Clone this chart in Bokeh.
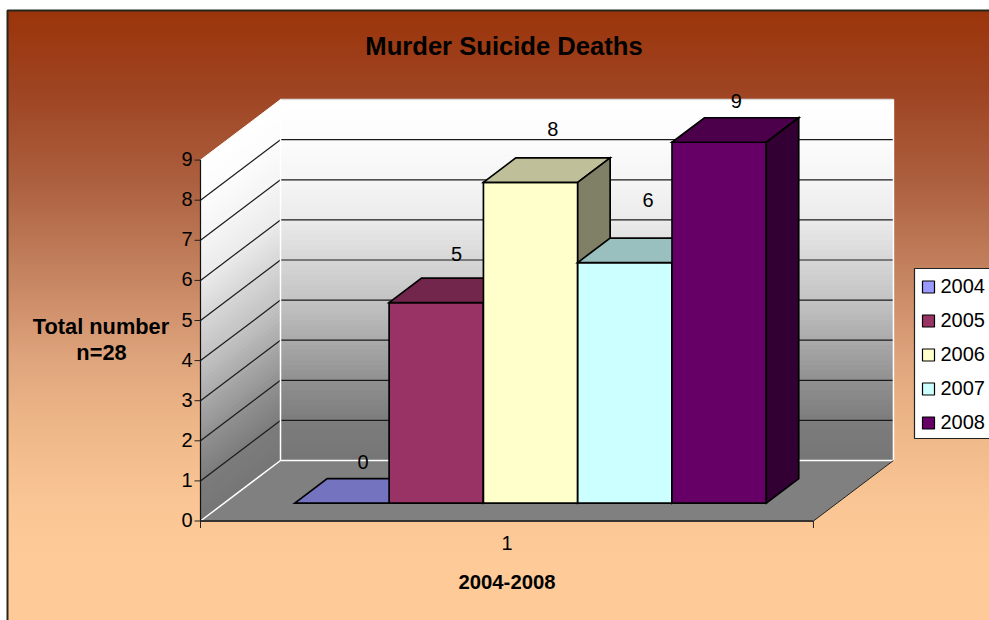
from bokeh.plotting import figure
from bokeh.models import Range1d
from bokeh.core.properties import value
from bokeh.embed import file_html
from bokeh.resources import INLINE
import numpy as np

# ---- data
title_text = "Murder Suicide Deaths"
y_title = ["Total number", "n=28"]
x_title = "2004-2008"
category = ["1"]
series = ["2004", "2005", "2006", "2007", "2008"]
deaths = [0, 5, 8, 6, 9]
y_ticks = [0, 1, 2, 3, 4, 5, 6, 7, 8, 9]
colors = ["#9999FF", "#993366", "#FFFFCC", "#CCFFFF", "#660066"]

# ---- projection / layout
FONT = value("Liberation Sans")
W, H = 989, 620
X_PX, Y_PX = 94.3, 40.1          # px per bar width, px per death
AX_X, AX_Y = 200, 520.5          # page position of the front-left-bottom corner
GAP = 0.75                       # gap on both sides of the bar group
DX, DY = 80 / X_PX, 60.5 / Y_PX  # full depth of the chart box, in data units
D0, D1 = 0.295, 0.70             # depth span of the bars
VMAX = y_ticks[-1]
UL, UR = -GAP, len(series) + GAP

# wall shading: grey level along the height of the wall (top to bottom)
SHADE_T = [0, 0.11, 0.22, 0.33, 0.44, 0.56, 0.67, 0.78, 0.89, 1]
SHADE_G = [255, 252, 245, 235, 215, 195, 170, 145, 125, 118]


def ux(page_x):
    return (page_x - AX_X) / X_PX - GAP


def vy(page_y):
    return (AX_Y - page_y) / Y_PX


def shade(hex_color, k):
    r, g, b = (int(hex_color[i:i + 2], 16) for i in (1, 3, 5))
    return "#%02x%02x%02x" % (round(r * k), round(g * k), round(b * k))


def mix(t):
    c = round(float(np.interp(t, SHADE_T, SHADE_G)))
    return "#%02x%02x%02x" % (c, c, c)


p = figure(width=W, height=H, output_backend="svg", toolbar_location=None,
           x_range=Range1d(ux(0), ux(W)),
           y_range=Range1d(vy(H), vy(0)),
           min_border=0, outline_line_color=None, x_axis_type=None, y_axis_type=None,
           background_fill_alpha=0, border_fill_alpha=0)
p.grid.visible = False
p.styles = {
    "background": "linear-gradient(180deg,rgb(155,52,10) 0px,rgb(158,68,34) 80px,rgb(172,95,62) 170px,"
                  "rgb(196,130,95) 260px,rgb(223,165,125) 350px,rgb(237,182,135) 410px,"
                  "rgb(250,197,148) 490px,rgb(254,203,152) 550px) 8px 11px / 981px 609px no-repeat",
}

# chart area border
p.line([ux(7), ux(7), ux(989)], [vy(620), vy(10), vy(10)], line_color="#26261c", line_width=2)

# floor
p.patch([UL, UR, UR + DX, UL + DX], [0, 0, DY, DY], fill_color="#808080", line_color=None)

# walls, gradient bands painted from the top down
N = 72
back_x, back_y, side_x, side_y, band_c = [], [], [], [], []
for i in range(N):
    v = VMAX * (1 - i / N)
    back_x.append([UL + DX, UR + DX, UR + DX, UL + DX])
    back_y.append([v + DY, v + DY, DY, DY])
    side_x.append([UL, UL + DX, UL + DX, UL])
    side_y.append([v, v + DY, DY, 0])
    band_c.append(mix(i / (N - 1)))
p.patches(back_x, back_y, fill_color=band_c, line_color=None)
p.patches(side_x, side_y, fill_color=band_c, line_color=None)

# gridlines
grid = y_ticks[1:-1]
p.segment([UL + DX] * len(grid), [v + DY for v in grid], [UR + DX] * len(grid), [v + DY for v in grid],
          line_color="#1a1a1a", line_width=1.2)
p.segment([UL] * len(grid), grid, [UL + DX] * len(grid), [v + DY for v in grid],
          line_color="#1a1a1a", line_width=1.2)

# wall edges
p.line([UL + DX, UR + DX], [VMAX + DY, VMAX + DY], line_color="#dddddd", line_width=1.5)
p.line([UL, UL + DX, UR + DX, UR + DX], [0, DY, DY, VMAX + DY], line_color="#ffffff", line_width=1.5)
p.line([UL + DX, UL + DX], [DY, VMAX + DY], line_color="#ffffff", line_width=1.5)
p.line([UL, UL + DX], [VMAX, VMAX + DY], line_color="#ffffff", line_width=1)

# axes
p.line([UR, UR + DX], [0, DY], line_color="#222222", line_width=1)
p.line([UL, UL], [0, VMAX], line_color="#111111", line_width=1.2)
p.line([UL, UR], [0, 0], line_color="#333333", line_width=2)
p.segment([UL] * len(y_ticks), y_ticks, [ux(AX_X - 6)] * len(y_ticks), y_ticks,
          line_color="#222222", line_width=1)
p.segment([UL, UR], [0, 0], [UL, UR], [vy(AX_Y + 7)] * 2, line_color="#222222", line_width=1)

# bars
for i, (name, val, col) in enumerate(zip(series, deaths, colors)):
    x0, x1 = i, i + 1
    xs = [
        [x0 + D0 * DX, x1 + D0 * DX, x1 + D0 * DX, x0 + D0 * DX],
        [x0 + D0 * DX, x1 + D0 * DX, x1 + D1 * DX, x0 + D1 * DX],
        [x1 + D0 * DX, x1 + D1 * DX, x1 + D1 * DX, x1 + D0 * DX],
    ]
    ys = [
        [D0 * DY, D0 * DY, val + D0 * DY, val + D0 * DY],
        [val + D0 * DY, val + D0 * DY, val + D1 * DY, val + D1 * DY],
        [D0 * DY, D1 * DY, val + D1 * DY, val + D0 * DY],
    ]
    if val == 0:   # an empty bar only shows its top
        xs, ys = xs[1:2], ys[1:2]
        cols = [shade(col, 0.75)]
    else:
        cols = [col, shade(col, 0.75), shade(col, 0.5)]
    p.patches(xs, ys, fill_color=cols, line_color="#000000", line_width=1.7, line_join="miter")

# data labels (nudges in px, as placed by the source chart)
label_dx = [5, 4, 6, 7, 1]
label_dy = [-17, -24, -29, -38, -17]
p.text([i + 0.5 + (D0 + D1) / 2 * DX for i in range(len(series))],
       [v + D1 * DY for v in deaths],
       text=[str(v) for v in deaths],
       x_offset=label_dx, y_offset=label_dy,
       text_font=FONT, text_font_size=value("20px"), text_color="#000000",
       text_align="center", text_baseline="middle")

# y tick labels, x category
p.text([UL] * len(y_ticks), y_ticks, text=[str(t) for t in y_ticks], x_offset=-8, y_offset=-1,
       text_font=FONT, text_font_size=value("20px"), text_color="#000000",
       text_align="right", text_baseline="middle")
p.text([(UL + UR) / 2], [0], text=category, x_offset=0, y_offset=22,
       text_font=FONT, text_font_size=value("20px"), text_color="#000000",
       text_align="center", text_baseline="middle")

# titles
p.text([ux(503.5)], [vy(45)], text=[title_text], text_font=FONT, text_font_size=value("25.6px"),
       text_font_style="bold", text_color="#000000", text_align="center", text_baseline="middle")
p.text([ux(100.5), ux(101)], [vy(326), vy(352)], text=y_title, text_font=FONT,
       text_font_size=value("21.8px"), text_font_style="bold", text_color="#000000",
       text_align="center", text_baseline="middle")
p.text([ux(506.5)], [vy(581)], text=[x_title], text_font=FONT, text_font_size=value("20.3px"),
       text_font_style="bold", text_color="#000000", text_align="center", text_baseline="middle")

# legend
p.quad(left=[ux(914)], right=[ux(1000)], top=[vy(268)], bottom=[vy(438)], fill_color="#ffffff",
       line_color="#222222", line_width=1.2)
rows = [286.5 + 34 * i for i in range(len(series))]
p.quad(left=[ux(922)] * 5, right=[ux(934)] * 5, top=[vy(r - 6) for r in rows],
       bottom=[vy(r + 6) for r in rows], fill_color=colors, line_color="#000000", line_width=1.2)
p.text([ux(940)] * 5, [vy(r) for r in rows], text=series, y_offset=-1.5, text_font=FONT,
       text_font_size=value("20px"), text_color="#000000", text_align="left", text_baseline="middle")

open("out.html", "w").write(file_html(p, INLINE))
